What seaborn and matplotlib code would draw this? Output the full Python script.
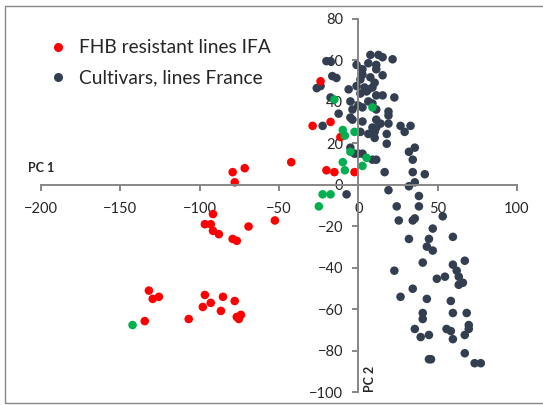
import matplotlib
matplotlib.use('Agg')
import matplotlib.pyplot as plt
from matplotlib.lines import Line2D
from matplotlib.patches import Rectangle
import pandas as pd
import seaborn as sns

# PCA scores
cult_pc1 = [-20.1, -17.5, -16.4, -13.8, -26.2, -23.8, -17.5, -12.4, -22.5, -1.1,
            2.6, 2.6, 1.3, 7.6, 12.7, 15.3, 21.6, 6.3, 11.3, 11.3,
            7.6, 10.3, 15.3, -6.1, -1.1, 3.9, 6.3, 8.9, 1.3, 5.2,
            11.3, 15.3, 22.7, -5.0, -3.7, 0.0, 2.6, 6.3, 8.9, 11.3,
            19.0, 19.0, -5.0, -3.7, 2.6, 11.3, 14.0, 8.9, 11.3, 19.0,
            26.6, 32.9, 29.2, 1.3, 6.3, 10.3, 10.3, 17.9, 17.9, -5.0,
            -2.4, 0.0, 2.6, 8.9, 11.3, 31.9, 35.6, 34.3, 16.6, 34.3,
            41.9, 31.9, 35.6, -7.4, 19.0, 38.2, 24.2, 38.2, 25.5, 34.3,
            35.6, 53.2, 46.9, 31.9, 44.5, 43.2, 46.9, 59.6, 40.6, 22.7,
            59.6, 62.0, 63.3, 63.3, 65.9, 67.1, 49.5, 54.6, 34.3, 26.6,
            43.2, 58.3, 40.6, 40.6, 59.6, 68.3, 35.6, 39.3, 44.5, 55.6,
            58.3, 59.6, 69.6, 69.6, 67.1, 67.1, 44.5, 45.8, 73.3, 77.2]
cult_pc2 = [59.5, 59.5, 52.3, 51.4, 46.5, 47.5, 42.0, 34.2, 28.3, 57.7,
            55.6, 53.0, 50.7, 62.5, 62.5, 61.4, 60.4, 58.5, 57.7, 55.6,
            51.7, 49.1, 52.7, 45.9, 47.5, 46.8, 45.9, 46.8, 43.9, 44.9,
            43.0, 43.0, 42.0, 40.1, 36.2, 38.1, 37.2, 40.1, 39.1, 36.2,
            35.2, 33.3, 32.3, 31.3, 30.4, 31.3, 29.4, 27.5, 27.5, 29.4,
            28.3, 28.3, 25.4, 25.4, 24.4, 25.4, 22.5, 24.4, 19.7, 17.8,
            14.9, 14.9, 14.9, 12.0, 12.0, 15.8, 17.8, 12.0, 6.0, 6.0,
            5.0, -0.8, 1.1, -4.7, -2.7, -5.5, -10.5, -10.5, -17.3, -17.3,
            -16.3, -15.3, -21.2, -26.2, -26.2, -29.9, -31.8, -25.2, -37.6, -41.5,
            -38.6, -41.5, -44.4, -48.3, -47.3, -36.7, -45.4, -44.4, -50.2, -54.1,
            -55.1, -56.1, -61.9, -64.8, -61.9, -61.9, -69.6, -73.5, -72.5, -69.6,
            -70.6, -74.5, -67.7, -69.6, -72.5, -81.3, -84.2, -84.2, -86.1, -86.1]

ifa_pc1 = [-23.8, -17.5, -28.8, -11.3, -42.3, -71.6, -79.2, -77.9, -20.1, -15.1,
           -2.4, -91.6, -96.7, -93.0, -91.6, -87.9, -69.2, -52.6, -79.2, -76.6,
           -132.0, -129.6, -125.7, -134.6, -106.9, -96.7, -98.0, -93.0, -85.3, -86.6,
           -77.9, -76.6, -74.0, -75.3]
ifa_pc2 = [49.8, 30.2, 28.3, 22.9, 10.8, 7.9, 6.0, 1.1, 6.9, 6.0,
           6.0, -14.2, -19.1, -19.1, -22.3, -23.9, -20.2, -17.3, -26.2, -27.1,
           -51.1, -55.1, -54.1, -65.8, -64.8, -53.2, -59.0, -57.0, -54.1, -60.9,
           -56.1, -63.8, -62.8, -64.8]

other_pc1 = [-15.1, 8.9, -9.8, -8.5, -2.4, -5.0, 5.2, 2.6, -9.8, -8.5,
             -22.5, -17.5, -24.9, -142.3]
other_pc2 = [41.0, 37.2, 26.3, 23.6, 25.4, 15.8, 12.9, 9.0, 10.8, 6.9,
             -4.7, -4.7, -10.5, -67.7]

groups = ["Cultivars, lines France", "FHB resistant lines IFA", "other"]
colors = ["#333F50", "#FF0000", "#00B050"]

df = pd.DataFrame({
    "PC1": cult_pc1 + ifa_pc1 + other_pc1,
    "PC2": cult_pc2 + ifa_pc2 + other_pc2,
    "group": [groups[0]] * len(cult_pc1) + [groups[1]] * len(ifa_pc1)
             + [groups[2]] * len(other_pc1),
})

sns.set_style("white")
plt.rcParams['font.family'] = ['Lato', 'DejaVu Sans']

fig = plt.figure(figsize=(5.43, 4.05), dpi=100)
ax = fig.add_axes([0.0755, 0.032, 0.8766, 0.922])

sns.scatterplot(data=df, x="PC1", y="PC2", hue="group", hue_order=groups,
                palette=dict(zip(groups, colors)), s=38, linewidth=0,
                legend=False, ax=ax)

ax.set_xlim(-200, 100)
ax.set_ylim(-100, 80)
ax.set_xticks(range(-200, 101, 50))
ax.set_yticks(range(-100, 81, 20))
ax.set_xlabel("")
ax.set_ylabel("")

# axes crossing at the origin
axis_col = "#868686"
ax.spines['left'].set_position(('data', 0))
ax.spines['bottom'].set_position(('data', 0))
ax.spines['right'].set_visible(False)
ax.spines['top'].set_visible(False)
for s in ['left', 'bottom']:
    ax.spines[s].set_color(axis_col)
    ax.spines[s].set_linewidth(1.4)
ax.tick_params(axis='x', direction='out', length=4.5, width=1.4, color=axis_col,
               pad=8, labelsize=10.5, bottom=True)
ax.tick_params(axis='y', direction='out', length=4, width=1.4, color=axis_col,
               pad=7, labelsize=10.5, left=True)

ax.text(-208.5, 8, "PC 1", fontsize=9, fontweight='bold', ha='left', va='center',
        clip_on=False)
ax.text(7.1, -93.7, "PC 2", fontsize=9, fontweight='bold', rotation=90,
        ha='center', va='center')

handles = [Line2D([], [], marker='o', linestyle='', markersize=6.5,
                  markerfacecolor=colors[1], markeredgewidth=0),
           Line2D([], [], marker='o', linestyle='', markersize=6.5,
                  markerfacecolor=colors[0], markeredgewidth=0)]
ax.legend(handles, [groups[1], groups[0]], loc='upper left',
          bbox_to_anchor=(-0.02, 0.965), frameon=False, fontsize=13.8,
          handletextpad=0.1, labelspacing=0.7, borderaxespad=0)

# chart area border
fig.patches.append(Rectangle((5 / 543, 2 / 405), 1.0, (405 - 8) / 405,
                             transform=fig.transFigure, fill=False,
                             edgecolor="#868686", linewidth=1))

fig.savefig("out.png", dpi=100)
